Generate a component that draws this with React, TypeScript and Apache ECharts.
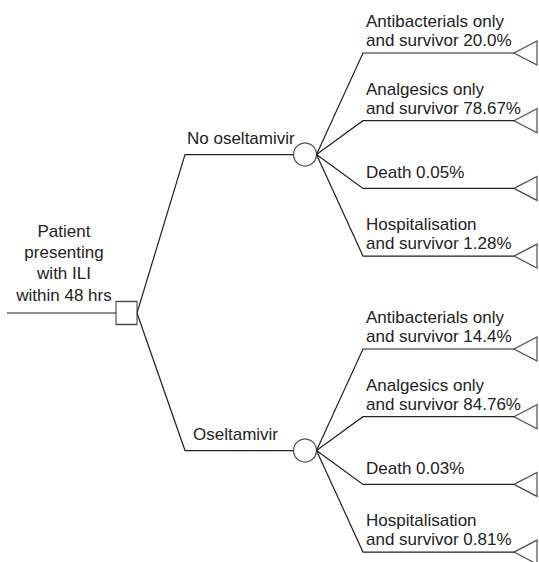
import React, { useEffect, useRef } from "react";
import * as echarts from "echarts";

// ---- Data ----
const rootLabel = ["Patient", "presenting", "with ILI", "within 48 hrs"];
const strategies = ["No oseltamivir", "Oseltamivir"];
const outcomes = [
  ["Antibacterials only", "and survivor"],
  ["Analgesics only", "and survivor"],
  ["Death"],
  ["Hospitalisation", "and survivor"],
];
const noOseltamivirPct = [20.0, 78.67, 0.05, 1.28];
const oseltamivirPct = [14.4, 84.76, 0.03, 0.81];
const strategyPcts = [noOseltamivirPct, oseltamivirPct];

// ---- Layout (pixel space of a 539 x 562 canvas) ----
const W = 539;
const H = 562;
const ROOT_STUB_X = 7;
const ROOT_X = 126.5;
const ROOT_Y = 313;
const ROOT_W = 21;
const ROOT_H = 23;
const ROOT_TEXT_X = 64;
const STRAT_ELBOW_X = 185;
const STRAT_TEXT_X = [187, 193];
const CHANCE_X = 305;
const CHANCE_D = 23;
const TERM_ELBOW_X = 363;
const TRI_TIP_X = 514;
const TRI_W = 23;
const TRI_H = 24;
const GROUP_TOP = [53, 349];
const TERM_SPACING = 67.7;
const TERM_TEXT_X = 366;

const FONT = "'Liberation Sans', Arial, Helvetica, sans-serif";
const INK = "#222";

const fmtPct = (v: number) =>
  (Number.isInteger(v) ? v.toFixed(1) : String(v)) + "%";

function buildLayout() {
  const edges: number[][][] = [];
  const boxes: number[][] = [];
  const circles: number[][] = [];
  const tris: number[][] = [];
  const texts: {
    x: number;
    y: number;
    text: string;
    align: string;
    lh: number;
  }[] = [];

  edges.push([
    [ROOT_STUB_X, ROOT_Y],
    [ROOT_X - ROOT_W / 2, ROOT_Y],
  ]);
  boxes.push([ROOT_X, ROOT_Y]);
  texts.push({
    x: ROOT_TEXT_X,
    y: ROOT_Y - 7.3,
    text: rootLabel.join("\n"),
    align: "center",
    lh: 21.2,
  });

  strategies.forEach((s, g) => {
    const ys = outcomes.map((_, i) => GROUP_TOP[g] + i * TERM_SPACING);
    const cy = (ys[0] + ys[ys.length - 1]) / 2;
    edges.push([
      [ROOT_X + ROOT_W / 2, ROOT_Y],
      [STRAT_ELBOW_X, cy],
      [CHANCE_X - CHANCE_D / 2, cy],
    ]);
    circles.push([CHANCE_X, cy]);
    texts.push({ x: STRAT_TEXT_X[g], y: cy - 7, text: s, align: "left", lh: 19 });
    outcomes.forEach((o, i) => {
      const ty = ys[i];
      edges.push([
        [CHANCE_X + CHANCE_D / 2, cy],
        [TERM_ELBOW_X, ty],
        [TRI_TIP_X, ty],
      ]);
      tris.push([TRI_TIP_X + TRI_W / 2, ty]);
      const lines = o.slice();
      lines[lines.length - 1] = lines[lines.length - 1] + " " + fmtPct(strategyPcts[g][i]);
      const gap = lines.length === 1 ? 10.5 : 6.5;
      texts.push({
        x: TERM_TEXT_X,
        y: ty - gap + 3.6,
        text: lines.join("\n"),
        align: "left",
        lh: 19,
      });
    });
  });
  return { edges, boxes, circles, tris, texts };
}

export default function App() {
  const ref = useRef<HTMLDivElement>(null);
  useEffect(() => {
    document.body.style.margin = "0";
    if (!ref.current) return;
    const chart = echarts.init(ref.current, null, { renderer: "svg" });
    const { edges, boxes, circles, tris, texts } = buildLayout();
    const nodeStyle = { color: "#fff", borderColor: INK, borderWidth: 1.2 };
    chart.setOption({
      animation: false,
      backgroundColor: "#fff",
      grid: { left: 0, right: 0, top: 0, bottom: 0 },
      xAxis: { type: "value", min: 0, max: W, show: false },
      yAxis: { type: "value", min: 0, max: H, inverse: true, show: false },
      series: [
        {
          type: "lines",
          coordinateSystem: "cartesian2d",
          polyline: true,
          silent: true,
          lineStyle: { color: INK, width: 1.2, opacity: 1 },
          data: edges.map((c) => ({ coords: c })),
        },
        {
          type: "scatter",
          silent: true,
          symbol: "rect",
          symbolSize: [ROOT_W, ROOT_H],
          itemStyle: nodeStyle,
          data: boxes,
        },
        {
          type: "scatter",
          silent: true,
          symbol: "circle",
          symbolSize: CHANCE_D,
          itemStyle: nodeStyle,
          data: circles,
        },
        {
          type: "scatter",
          silent: true,
          symbol: "path://M0 12 L23 0 L23 24 Z",
          symbolSize: [TRI_W, TRI_H],
          itemStyle: nodeStyle,
          data: tris,
        },
        {
          type: "custom",
          silent: true,
          data: texts.map((t) => [t.x, t.y]),
          renderItem: (params: any, api: any) => {
            const t = texts[params.dataIndex];
            const p = api.coord([api.value(0), api.value(1)]);
            return {
              type: "text",
              x: p[0],
              y: p[1],
              style: {
                text: t.text,
                fill: INK,
                font: `17px ${FONT}`,
                align: t.align,
                verticalAlign: "bottom",
                lineHeight: t.lh,
              },
            };
          },
        },
      ],
    });
    return () => chart.dispose();
  }, []);
  return <div ref={ref} style={{ width: W, height: H }} />;
}
